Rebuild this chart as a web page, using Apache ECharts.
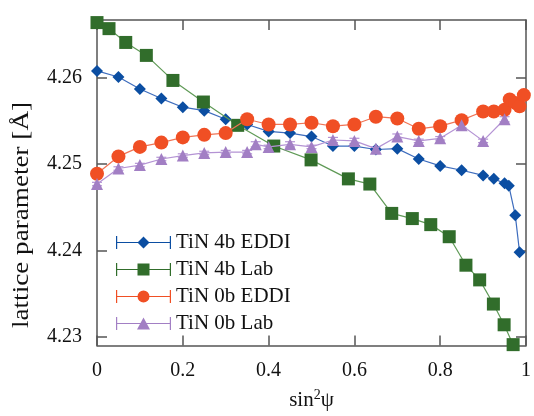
<!DOCTYPE html>
<html><head><meta charset="utf-8">
<script src="https://cdn.jsdelivr.net/npm/echarts@6/dist/echarts.min.js"></script>
<style>html,body{margin:0;padding:0;background:#fff}#c{width:534px;height:416px}</style>
</head><body><div id="c"></div>
<script>
const seriesNames = ['TiN 4b EDDI', 'TiN 4b Lab', 'TiN 0b EDDI', 'TiN 0b Lab'];
const xTicks = [0, 0.2, 0.4, 0.6, 0.8, 1.0];
const yTicks = [4.23, 4.24, 4.25, 4.26];

const eddi4bX = [0,0.05,0.1,0.15,0.2,0.25,0.3,0.35,0.4,0.45,0.5,0.55,0.6,0.65,0.7,0.75,0.8,0.85,0.9,0.925,0.95,0.96,0.975,0.985];
const eddi4bY = [4.2608,4.2601,4.2587,4.2576,4.2566,4.2562,4.2552,4.2546,4.2538,4.2536,4.2532,4.2521,4.2521,4.2517,4.2518,4.2506,4.2498,4.2493,4.2487,4.2483,4.2478,4.2475,4.2441,4.2398];

const lab4bX = [0,0.028,0.067,0.115,0.177,0.248,0.328,0.412,0.499,0.586,0.636,0.687,0.735,0.778,0.821,0.86,0.892,0.924,0.949,0.97];
const lab4bY = [4.2664,4.2657,4.2641,4.2626,4.2597,4.2572,4.2545,4.2521,4.2505,4.2483,4.2477,4.2443,4.2437,4.2430,4.2416,4.2383,4.2366,4.2338,4.2314,4.2291];

const eddi0bX = [0,0.05,0.1,0.15,0.2,0.25,0.3,0.35,0.4,0.45,0.5,0.55,0.6,0.65,0.7,0.75,0.8,0.85,0.9,0.925,0.95,0.962,0.975,0.985,0.995];
const eddi0bY = [4.2489,4.2509,4.2520,4.2525,4.2531,4.2534,4.2536,4.2552,4.2546,4.2546,4.2548,4.2544,4.2546,4.2555,4.2553,4.2541,4.2544,4.2551,4.2561,4.2561,4.2563,4.2575,4.2571,4.2567,4.2580];

const lab0bX = [0,0.05,0.1,0.15,0.2,0.25,0.3,0.35,0.37,0.4,0.45,0.5,0.55,0.6,0.65,0.7,0.75,0.8,0.85,0.9,0.95];
const lab0bY = [4.2477,4.2495,4.2499,4.2506,4.2510,4.2513,4.2514,4.2514,4.2523,4.2520,4.2523,4.2520,4.2528,4.2527,4.2518,4.2532,4.2527,4.2530,4.2545,4.2527,4.2552];
const lab0bErr = [0.0002,0.0002,0.0002,0.0002,0.0002,0.0002,0.0002,0.0002,0.0003,0.0002,0.0003,0.0002,0.0003,0.0003,0.0002,0.0003,0.0002,0.0002,0.0003,0.0002,0.0003];

const zip = (xs, ys) => xs.map((x, i) => [x, ys[i]]);
const FONT = "'Liberation Serif', 'Times New Roman', serif";

const markerCol = ['#0b4ea2', '#316d2b', '#f04f24', '#a27fc4'];
const lineCol = ['#3d6cbd', '#5f9a56', '#f07455', '#b493d4'];

const caps = 'M0 6.5H55V7.5H0Z M0 0.5H1.2V13.5H0Z M53.8 0.5H55V13.5H53.8Z ';
const icons = [
  'path://' + caps + 'M27.5 1L33.5 7L27.5 13L21.5 7Z',
  'path://' + caps + 'M21.5 1H33.5V13H21.5Z',
  'path://' + caps + 'M21.5 7A6 6 0 1 1 33.5 7A6 6 0 1 1 21.5 7Z',
  'path://' + caps + 'M27.5 1L34 13H21Z'
];

const chart = echarts.init(document.getElementById('c'), null, {renderer: 'canvas'});

const axisLine = {show: true, onZero: false, lineStyle: {color: '#555', width: 1.5}};
const tickX = {show: true, inside: true, length: 10, customValues: xTicks, lineStyle: {color: '#555', width: 1.5}};
const tickY = {show: true, inside: true, length: 10, customValues: yTicks, lineStyle: {color: '#555', width: 1.5}};

function lineSeries(i, data, symbol, size) {
  return {
    name: seriesNames[i], type: 'line', data: data,
    symbol: symbol, symbolSize: size, showSymbol: true,
    lineStyle: {color: lineCol[i], width: 1.2},
    itemStyle: {color: markerCol[i]},
    emphasis: {disabled: true}, animation: false, clip: false, z: 3 + i
  };
}

const errData = lab0bX.map((x, i) => [x, lab0bY[i], lab0bErr[i]]);

chart.setOption({
  backgroundColor: '#fff',
  animation: false,
  grid: {left: 97, top: 20, width: 437, height: 328, containLabel: false},
  legend: {
    orient: 'vertical', left: 111, top: 227,
    itemWidth: 55, itemHeight: 14, itemGap: 6,
    textStyle: {fontFamily: FONT, fontSize: 21, color: '#111'},
    data: seriesNames.map((n, i) => ({name: n, icon: icons[i]}))
  },
  xAxis: [
    {type: 'value', min: 0, max: 1, position: 'bottom', axisLine: axisLine, axisTick: tickX,
     splitLine: {show: false},
     axisLabel: {customValues: xTicks, margin: 15, fontFamily: FONT, fontSize: 20, color: '#111',
       formatter: v => (v === 0 ? '0' : (v === 1 ? '1' : String(v)))},
     name: '{a|sin}{s|2}{a|ψ}', nameLocation: 'middle', nameGap: 43,
     nameTextStyle: {rich: {
       a: {fontFamily: FONT, fontSize: 21, color: '#111', lineHeight: 24},
       s: {fontFamily: FONT, fontSize: 14, color: '#111', lineHeight: 14, verticalAlign: 'top'}
     }}},
    {type: 'value', min: 0, max: 1, position: 'top', axisLine: axisLine, axisTick: tickX,
     splitLine: {show: false}, axisLabel: {show: false}}
  ],
  yAxis: [
    {type: 'value', min: 4.229, max: 4.2667, position: 'left', axisLine: axisLine, axisTick: tickY,
     splitLine: {show: false},
     axisLabel: {customValues: yTicks, margin: 15, fontFamily: FONT, fontSize: 20, color: '#111',
       formatter: v => v.toFixed(2)}},
    {type: 'value', min: 4.229, max: 4.2667, position: 'right', axisLine: axisLine, axisTick: tickY,
     splitLine: {show: false}, axisLabel: {show: false}}
  ],
  graphic: [{
    type: 'text', x: 22, y: 215, rotation: Math.PI / 2, scaleX: 1.18,
    style: {text: 'lattice parameter [Å]', fontFamily: FONT, fontSize: 23, fill: '#111',
      align: 'center', verticalAlign: 'middle'}
  }],
  series: [
    {
      type: 'custom', name: 'err', data: errData, z: 2, silent: true,
      renderItem: function (params, api) {
        const x = api.value(0), y = api.value(1), e = api.value(2);
        const hi = api.coord([x, y + e]);
        const lo = api.coord([x, y - e]);
        const w = 5;
        const st = {stroke: lineCol[3], lineWidth: 1.2};
        return {type: 'group', children: [
          {type: 'line', shape: {x1: hi[0], y1: hi[1], x2: lo[0], y2: lo[1]}, style: st},
          {type: 'line', shape: {x1: hi[0] - w, y1: hi[1], x2: hi[0] + w, y2: hi[1]}, style: st},
          {type: 'line', shape: {x1: lo[0] - w, y1: lo[1], x2: lo[0] + w, y2: lo[1]}, style: st}
        ]};
      }
    },
    lineSeries(0, zip(eddi4bX, eddi4bY), 'diamond', 12),
    lineSeries(1, zip(lab4bX, lab4bY), 'rect', 13),
    lineSeries(2, zip(eddi0bX, eddi0bY), 'circle', 14),
    lineSeries(3, zip(lab0bX, lab0bY), 'triangle', 12)
  ]
});
</script></body></html>
